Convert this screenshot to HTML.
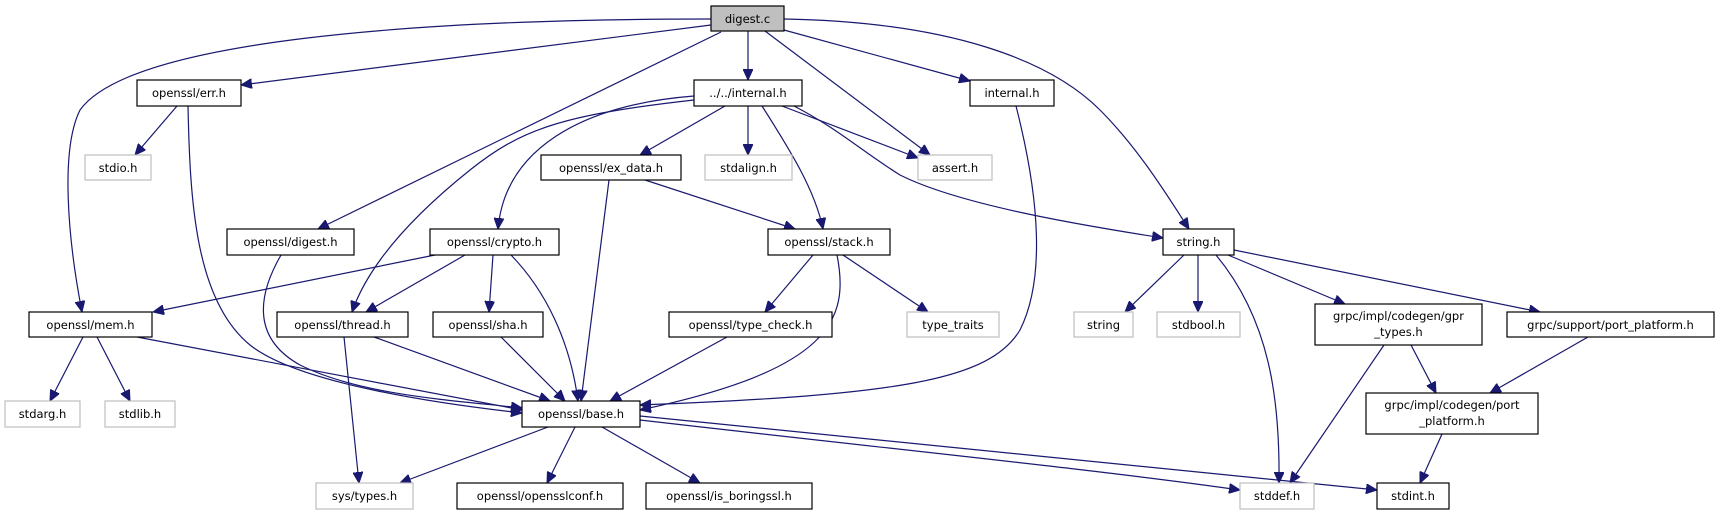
<!DOCTYPE html>
<html><head><meta charset="utf-8"><style>
html,body{margin:0;padding:0;background:#fff;}
svg{display:block;}
text{font-family:"DejaVu Sans","Liberation Sans",sans-serif;font-size:11.5px;fill:#000;}
.n{fill:#fff;stroke:#000;stroke-width:1.2;}
.g{fill:#fff;stroke:#bfbfbf;stroke-width:1.2;}
.e{fill:none;stroke:#191970;stroke-width:1.2;marker-end:url(#a);}
</style></head><body>
<svg width="1720" height="515" viewBox="0 0 1720 515" xmlns="http://www.w3.org/2000/svg">
<defs><marker id="a" markerUnits="userSpaceOnUse" markerWidth="12" markerHeight="10" refX="11" refY="5" orient="auto"><path d="M0,0 L11,5 L0,10 z" fill="#191970" stroke="#191970"/></marker></defs>
<!-- edges -->
<path class="e" d="M711,19 C420,19 130,40 80,110 C60,150 68,240 82,312"/>
<path class="e" d="M711,25 L241,85"/>
<path class="e" d="M721,32 L318,229"/>
<path class="e" d="M748,31 L748,80"/>
<path class="e" d="M765,31 L930,155"/>
<path class="e" d="M784,30 L970,81"/>
<path class="e" d="M784,19 C950,22 1050,60 1100,110 C1140,150 1170,200 1189,229"/>
<path class="e" d="M177,106 L135,155"/>
<path class="e" d="M188,106 C190,200 195,300 250,345 C300,385 450,405 522,413"/>
<path class="e" d="M725,106 L640,155"/>
<path class="e" d="M748,106 L748,155"/>
<path class="e" d="M782,106 L918,158"/>
<path class="e" d="M762,106 C790,150 815,190 823,229"/>
<path class="e" d="M794,106 C840,130 860,150 900,175 C960,205 1080,225 1163,238"/>
<path class="e" d="M694,96 C580,105 505,150 498,229"/>
<path class="e" d="M694,100 C560,115 520,130 470,170 C420,210 370,260 352,312"/>
<path class="e" d="M609,180 L581,401"/>
<path class="e" d="M645,180 L795,229"/>
<path class="e" d="M1016,106 C1040,200 1045,280 1020,330 C990,380 900,395 640,405"/>
<path class="e" d="M281,255 C255,300 255,340 300,365 C360,395 450,400 522,408"/>
<path class="e" d="M435,255 L153,312"/>
<path class="e" d="M465,255 L366,312"/>
<path class="e" d="M493,255 L489,312"/>
<path class="e" d="M511,255 C545,290 570,340 578,401"/>
<path class="e" d="M813,255 L765,312"/>
<path class="e" d="M843,255 L928,312"/>
<path class="e" d="M837,255 C850,320 830,370 640,410"/>
<path class="e" d="M1184,255 L1125,312"/>
<path class="e" d="M1198,255 L1198,312"/>
<path class="e" d="M1216,255 C1270,320 1280,400 1279,483"/>
<path class="e" d="M1228,255 L1345,304"/>
<path class="e" d="M1234,250 L1540,312"/>
<path class="e" d="M83,337 L50,401"/>
<path class="e" d="M97,337 L130,401"/>
<path class="e" d="M137,337 L522,410"/>
<path class="e" d="M344,337 L359,483"/>
<path class="e" d="M374,337 L550,401"/>
<path class="e" d="M501,337 L565,401"/>
<path class="e" d="M727,337 L610,401"/>
<path class="e" d="M1384,345 L1290,483"/>
<path class="e" d="M1411,345 L1436,393"/>
<path class="e" d="M1588,337 L1490,393"/>
<path class="e" d="M1442,434 L1420,483"/>
<path class="e" d="M548,427 L400,483"/>
<path class="e" d="M575,427 L547,483"/>
<path class="e" d="M602,427 L700,483"/>
<path class="e" d="M640,420 C900,450 1100,470 1240,490"/>
<path class="e" d="M640,416 C900,440 1150,465 1377,490"/>
<!-- nodes -->
<rect x="711" y="6" width="73" height="25" fill="#bfbfbf" stroke="#000" stroke-width="1.2"/><text x="747.5" y="23" text-anchor="middle">digest.c</text>
<rect class="n" x="137" y="80" width="104" height="26"/><text x="189" y="97" text-anchor="middle">openssl/err.h</text>
<rect class="n" x="694" y="80" width="108" height="26"/><text x="748" y="97" text-anchor="middle">../../internal.h</text>
<rect class="n" x="970" y="80" width="84" height="26"/><text x="1012" y="97" text-anchor="middle">internal.h</text>
<rect class="g" x="85" y="155" width="66" height="25"/><text x="118" y="172" text-anchor="middle">stdio.h</text>
<rect class="n" x="541" y="155" width="140" height="25"/><text x="611" y="172" text-anchor="middle">openssl/ex_data.h</text>
<rect class="g" x="705" y="155" width="87" height="25"/><text x="748.5" y="172" text-anchor="middle">stdalign.h</text>
<rect class="g" x="918" y="155" width="74" height="25"/><text x="955" y="172" text-anchor="middle">assert.h</text>
<rect class="n" x="227" y="229" width="127" height="26"/><text x="290.5" y="246" text-anchor="middle">openssl/digest.h</text>
<rect class="n" x="430" y="229" width="129" height="26"/><text x="494.5" y="246" text-anchor="middle">openssl/crypto.h</text>
<rect class="n" x="768" y="229" width="122" height="26"/><text x="829" y="246" text-anchor="middle">openssl/stack.h</text>
<rect class="n" x="1163" y="229" width="71" height="26"/><text x="1198.5" y="246" text-anchor="middle">string.h</text>
<rect class="n" x="29" y="312" width="123" height="25"/><text x="90.5" y="329" text-anchor="middle">openssl/mem.h</text>
<rect class="n" x="277" y="312" width="131" height="25"/><text x="342.5" y="329" text-anchor="middle">openssl/thread.h</text>
<rect class="n" x="433" y="312" width="110" height="25"/><text x="488" y="329" text-anchor="middle">openssl/sha.h</text>
<rect class="n" x="669" y="312" width="163" height="25"/><text x="750.5" y="329" text-anchor="middle">openssl/type_check.h</text>
<rect class="g" x="907" y="312" width="92" height="25"/><text x="953" y="329" text-anchor="middle">type_traits</text>
<rect class="g" x="1074" y="312" width="59" height="25"/><text x="1103.5" y="329" text-anchor="middle">string</text>
<rect class="g" x="1157" y="312" width="83" height="25"/><text x="1198.5" y="329" text-anchor="middle">stdbool.h</text>
<rect class="n" x="1315" y="304" width="167" height="41"/><text x="1398.5" y="320" text-anchor="middle">grpc/impl/codegen/gpr</text><text x="1398.5" y="336" text-anchor="middle">_types.h</text>
<rect class="n" x="1507" y="312" width="207" height="25"/><text x="1610.5" y="329" text-anchor="middle">grpc/support/port_platform.h</text>
<rect class="g" x="5" y="401" width="75" height="26"/><text x="42.5" y="418" text-anchor="middle">stdarg.h</text>
<rect class="g" x="105" y="401" width="70" height="26"/><text x="140" y="418" text-anchor="middle">stdlib.h</text>
<rect class="n" x="522" y="401" width="118" height="26"/><text x="581" y="418" text-anchor="middle">openssl/base.h</text>
<rect class="n" x="1366" y="393" width="172" height="41"/><text x="1452" y="409" text-anchor="middle">grpc/impl/codegen/port</text><text x="1452" y="425" text-anchor="middle">_platform.h</text>
<rect class="g" x="316" y="483" width="97" height="26"/><text x="364.5" y="500" text-anchor="middle">sys/types.h</text>
<rect class="n" x="457" y="483" width="166" height="26"/><text x="540" y="500" text-anchor="middle">openssl/opensslconf.h</text>
<rect class="n" x="646" y="483" width="166" height="26"/><text x="729" y="500" text-anchor="middle">openssl/is_boringssl.h</text>
<rect class="g" x="1240" y="483" width="74" height="26"/><text x="1277" y="500" text-anchor="middle">stddef.h</text>
<rect class="n" x="1377" y="483" width="72" height="26"/><text x="1413" y="500" text-anchor="middle">stdint.h</text>
</svg>
</body></html>
